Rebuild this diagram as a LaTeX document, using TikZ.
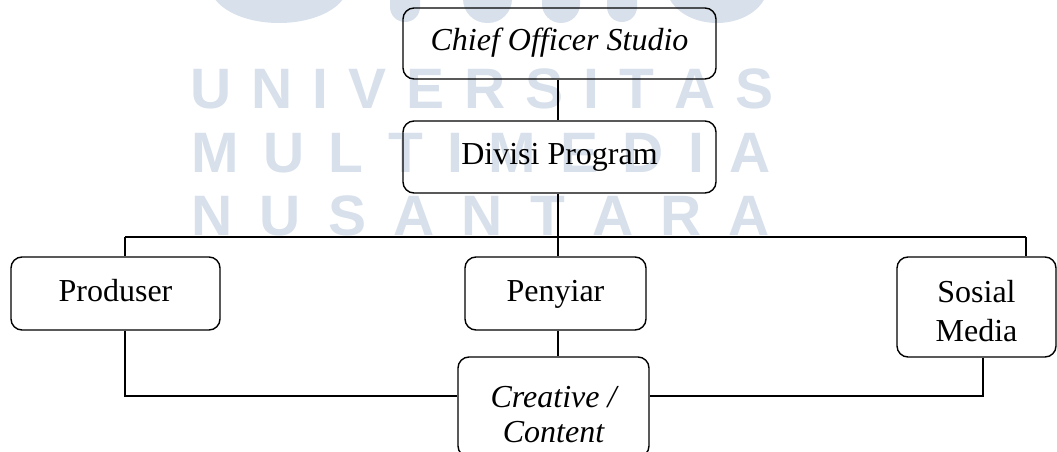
\documentclass[tikz,border=0pt]{standalone}
\usepackage{fontspec}
\setmainfont{Liberation Serif}
\newfontfamily\wmfont{Liberation Sans}
\definecolor{wm}{RGB}{215,224,235}
\begin{document}
\begin{tikzpicture}[x=1pt,y=-1pt,
  box/.style={draw, line width=1.4pt, rounded corners=11pt, inner sep=0pt, align=center, font=\fontsize{32}{38.4}\selectfont},
  oneline/.style={text height=22pt, text depth=7pt},
  conn/.style={line width=1.4pt},
  wmtext/.style={text=wm, inner sep=0pt, anchor=base west, font=\wmfont\bfseries\fontsize{57}{57}\selectfont},
  blob/.style={fill=wm, draw=none}]
\clip (0,0) rectangle (1057,452);
\useasboundingbox (0,0) rectangle (1057,452);
% watermark
\fill[blob] (279,-15) ellipse [x radius=69, y radius=38];
\fill[blob] (717,-15) ellipse [x radius=51, y radius=38];
\fill[blob, rounded corners=15pt] (390,-40) rectangle (420,22);
\fill[blob, rounded corners=24pt] (463,-40) rectangle (512,23);
\fill[blob, rounded corners=19pt] (542,-40) rectangle (580,23);
\fill[blob, rounded corners=15pt] (607,-40) rectangle (637,22);
\node[wmtext] (wm1) at (190,108) {\hbox to 583pt{U\hfil N\hfil I\hfil V\hfil E\hfil R\hfil S\hfil I\hfil T\hfil A\hfil S}};
\node[wmtext] (wm2) at (191,172) {\hbox to 579pt{M\hfil U\hfil L\hfil T\hfil I\hfil M\hfil E\hfil D\hfil I\hfil A}};
\node[wmtext] (wm3) at (191,235) {\hbox to 579pt{N\hfil U\hfil S\hfil A\hfil N\hfil T\hfil A\hfil R\hfil A}};
% boxes
\node[box, oneline, minimum width=313pt, minimum height=71pt] (chief) at (559.5,43.5) {\itshape Chief Officer Studio};
\node[box, oneline, minimum width=313pt, minimum height=72pt] (divisi) at (559.5,157) {Divisi Program};
\node[box, oneline, minimum width=209pt, minimum height=73pt] (produser) at (115.5,293.5) {Produser};
\node[box, oneline, minimum width=181pt, minimum height=73pt] (penyiar) at (555.5,293.5) {Penyiar};
\node[box, minimum width=159pt, minimum height=100pt, font=\fontsize{32}{39}\selectfont] (sosial) at (976.5,307) {\rule{0pt}{31pt}Sosial\\Media};
\node[box, minimum width=191pt, minimum height=100pt, font=\fontsize{32}{35}\selectfont\itshape] (creative) at (553.5,407) {\rule{0pt}{37pt}Creative /\\Content};
% connectors
\coordinate (busL) at (125,237);
\coordinate (busM) at (558,237);
\coordinate (busR) at (1026,237);
\coordinate (lowL) at (125,396);
\coordinate (lowR) at (983,396);
\draw[conn] (chief.south -| busM) -- (divisi.north -| busM);
\draw[conn] (divisi.south -| busM) -- (busM);
\draw[conn] (busL) -- (busR);
\draw[conn] (busL) -- (busL |- produser.north);
\draw[conn] (busM) -- (busM |- penyiar.north);
\draw[conn] (busR) -- (busR |- sosial.north);
\draw[conn] (penyiar.south -| busM) -- (creative.north -| busM);
\draw[conn] (produser.south -| lowL) -- (lowL) -- (creative.west |- lowL);
\draw[conn] (sosial.south -| lowR) -- (lowR) -- (creative.east |- lowR);
\end{tikzpicture}
\end{document}
